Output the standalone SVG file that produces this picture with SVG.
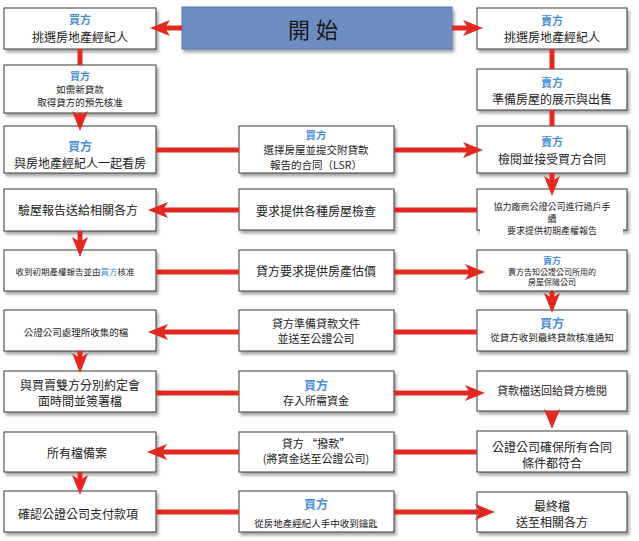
<svg xmlns="http://www.w3.org/2000/svg" width="639" height="541" viewBox="0 0 639 541">
<defs>
<filter id="sh" x="-10%" y="-20%" width="125%" height="150%">
<feDropShadow dx="2" dy="3" stdDeviation="1.8" flood-color="#000" flood-opacity="0.35"/>
</filter>
<marker id="ah" markerUnits="userSpaceOnUse" markerWidth="22" markerHeight="18" refX="10" refY="8" orient="auto" viewBox="0 0 22 18">
<path d="M0,0 L20,8 L0,16 L5,8 Z" fill="#e32822"/>
</marker>
<style>
.box{fill:#fff;stroke:#3a3a3a;stroke-width:1;filter:url(#sh)}
.start{fill:#6d8cc0;stroke:#5b78aa;stroke-width:1;filter:url(#sh)}
.t{font-family:"Noto Sans CJK TC","Noto Sans CJK SC",sans-serif;fill:#222;text-anchor:middle;dominant-baseline:central}
.l{text-anchor:start}
.b{fill:#4a8fd9;font-weight:bold}
.bl{fill:#4a8fd9}
.s8{font-size:8px}.s85{font-size:8.5px}.s9{font-size:9px}.s95{font-size:9.5px}.s10{font-size:10px}.s105{font-size:10.5px}.s11{font-size:11px}.s12{font-size:12px}
.c{stroke:#e32822;stroke-width:5;fill:none}
.a{marker-end:url(#ah)}
</style>
</defs>
<rect width="639" height="541" fill="#fff"/>

<g id="start">
<rect class="start" x="182" y="7" width="270" height="42"/>
<text class="t" x="316" y="28" style="font-size:22px;fill:#1a1a1a;letter-spacing:6px">開始</text>
</g>

<!-- Left column -->
<g id="L1"><rect class="box" x="4" y="8" width="152" height="41"/>
<text class="t b s11" x="80" y="19">買方</text>
<text class="t s12" x="80" y="36">挑選房地產經紀人</text></g>
<g id="L2"><rect class="box" x="4" y="65" width="152" height="48"/>
<text class="t b s10" x="80" y="75">買方</text>
<text class="t s95" x="80" y="88.5">如需新貸款</text>
<text class="t s95" x="80" y="102">取得貸方的預先核准</text></g>
<g id="L3"><rect class="box" x="4" y="126" width="152" height="47"/>
<text class="t b s12" x="80" y="145">買方</text>
<text class="t s12" x="80" y="162">與房地產經紀人一起看房</text></g>
<g id="L4"><rect class="box" x="4" y="189" width="152" height="42"/>
<text class="t s12" x="78" y="209">驗屋報告送給相關各方</text></g>
<g id="L5"><rect class="box" x="4" y="250" width="152" height="41"/>
<text class="t l s85" x="15.5" y="271">收到初期產權報告並由</text>
<text class="t l bl s85" x="100.5" y="271">買方</text>
<text class="t l s85" x="117.5" y="271">核准</text></g>
<g id="L6"><rect class="box" x="4" y="310" width="152" height="41"/>
<text class="t s95" x="76" y="332">公證公司處理所收集的檔</text></g>
<g id="L7"><rect class="box" x="4" y="371" width="152" height="41"/>
<text class="t s12" x="80" y="384">與買賣雙方分別約定會</text>
<text class="t s12" x="80" y="400">面時間並簽署檔</text></g>
<g id="L8"><rect class="box" x="4" y="432" width="152" height="40"/>
<text class="t s12" x="77" y="452">所有檔備案</text></g>
<g id="L9"><rect class="box" x="4" y="491" width="152" height="41"/>
<text class="t s12" x="78" y="513">確認公證公司支付款項</text></g>

<!-- Middle column -->
<g id="M3"><rect class="box" x="239" y="126" width="155" height="47"/>
<text class="t b s105" x="316" y="134.5">買方</text>
<text class="t s105" x="316" y="149.5">選擇房屋並提交附貸款</text>
<text class="t s105" x="316" y="164">報告的合同（LSR）</text></g>
<g id="M4"><rect class="box" x="239" y="189" width="155" height="41"/>
<text class="t s12" x="316" y="210">要求提供各種房屋檢查</text></g>
<g id="M5"><rect class="box" x="239" y="250" width="155" height="41"/>
<text class="t s12" x="316" y="270">貸方要求提供房產估價</text></g>
<g id="M6"><rect class="box" x="239" y="310" width="155" height="41"/>
<text class="t s11" x="316" y="323">貸方準備貸款文件</text>
<text class="t s11" x="316" y="338">並送至公證公司</text></g>
<g id="M7"><rect class="box" x="239" y="371" width="155" height="41"/>
<text class="t b s12" x="316" y="384">買方</text>
<text class="t s11" x="316" y="400">存入所需資金</text></g>
<g id="M8"><rect class="box" x="239" y="432" width="155" height="40"/>
<text class="t s11" x="316" y="443">貸方 “撥款”</text>
<text class="t s11" x="316" y="458">(將資金送至公證公司)</text></g>
<g id="M9"><rect class="box" x="239" y="491" width="155" height="41"/>
<text class="t b s12" x="316" y="503">買方</text>
<text class="t s95" x="316" y="523">從房地產經紀人手中收到鑰匙</text></g>

<!-- Right column -->
<g id="R1"><rect class="box" x="477" y="8" width="150" height="41"/>
<text class="t b s11" x="552" y="20">賣方</text>
<text class="t s12" x="552" y="36">挑選房地產經紀人</text></g>
<g id="R2"><rect class="box" x="477" y="69" width="150" height="41"/>
<text class="t b s11" x="552" y="82">賣方</text>
<text class="t s12" x="552" y="98">準備房屋的展示與出售</text></g>
<g id="R3"><rect class="box" x="477" y="126" width="150" height="47"/>
<text class="t b s11" x="552" y="141">賣方</text>
<text class="t s12" x="552" y="158">檢閱並接受買方合同</text></g>
<g id="R4"><rect class="box" x="477" y="189" width="150" height="41"/>
<rect x="480" y="225" width="143" height="12" fill="#fff"/>
<text class="t s9" x="552" y="206">協力廠商公證公司進行過戶手</text>
<text class="t s9" x="552" y="218">續</text>
<text class="t s9" x="552" y="230">要求提供初期產權報告</text></g>
<g id="R5"><rect class="box" x="477" y="250" width="150" height="41"/>
<text class="t b s9" x="552" y="260">賣方</text>
<text class="t s8" x="552" y="271">賣方告知公證公司所用的</text>
<text class="t s8" x="552" y="281">房屋保險公司</text></g>
<g id="R6"><rect class="box" x="477" y="310" width="150" height="41"/>
<text class="t b s12" x="552" y="322">買方</text>
<text class="t s95" x="552" y="337">從貸方收到最終貸款核准通知</text></g>
<g id="R7"><rect class="box" x="477" y="371" width="150" height="40"/>
<text class="t s11" x="552" y="390">貸款檔送回給貸方檢閱</text></g>
<g id="R8"><rect class="box" x="477" y="431" width="150" height="41"/>
<text class="t s12" x="552" y="446">公證公司確保所有合同</text>
<text class="t s12" x="552" y="462">條件都符合</text></g>
<g id="R9"><rect class="box" x="477" y="492" width="150" height="40"/>
<text class="t s12" x="552" y="505">最終檔</text>
<text class="t s12" x="552" y="521">送至相關各方</text></g>

<g id="connectors">
<line class="c a" x1="182" y1="28" x2="160" y2="28"/>
<line class="c a" x1="452" y1="28" x2="473" y2="28"/>
<line class="c" x1="80" y1="49" x2="80" y2="65"/>
<line class="c a" x1="80" y1="113" x2="80" y2="121"/>
<line class="c" x1="156" y1="150" x2="239" y2="150"/>
<line class="c a" x1="394" y1="150" x2="473" y2="150"/>
<line class="c" x1="552" y1="49" x2="552" y2="69"/>
<line class="c" x1="552" y1="110" x2="552" y2="126"/>
<line class="c a" x1="552" y1="173" x2="552" y2="186"/>
<line class="c" x1="477" y1="210" x2="394" y2="210"/>
<line class="c a" x1="239" y1="210" x2="158" y2="210"/>
<line class="c a" x1="80" y1="231" x2="80" y2="247"/>
<line class="c" x1="156" y1="272" x2="239" y2="272"/>
<line class="c a" x1="394" y1="272" x2="475" y2="272"/>
<line class="c a" x1="552" y1="291" x2="552" y2="303"/>
<line class="c" x1="477" y1="332" x2="394" y2="332"/>
<line class="c a" x1="239" y1="332" x2="158" y2="332"/>
<line class="c a" x1="80" y1="351" x2="80" y2="363"/>
<line class="c" x1="156" y1="393" x2="239" y2="393"/>
<line class="c a" x1="394" y1="393" x2="475" y2="393"/>
<line class="c a" x1="552" y1="411" x2="552" y2="419"/>
<line class="c" x1="477" y1="452" x2="394" y2="452"/>
<line class="c a" x1="239" y1="452" x2="157" y2="452"/>
<line class="c a" x1="80" y1="472" x2="80" y2="485"/>
<line class="c" x1="156" y1="512" x2="239" y2="512"/>
<line class="c a" x1="394" y1="512" x2="485" y2="512"/>
</g>
</svg>
